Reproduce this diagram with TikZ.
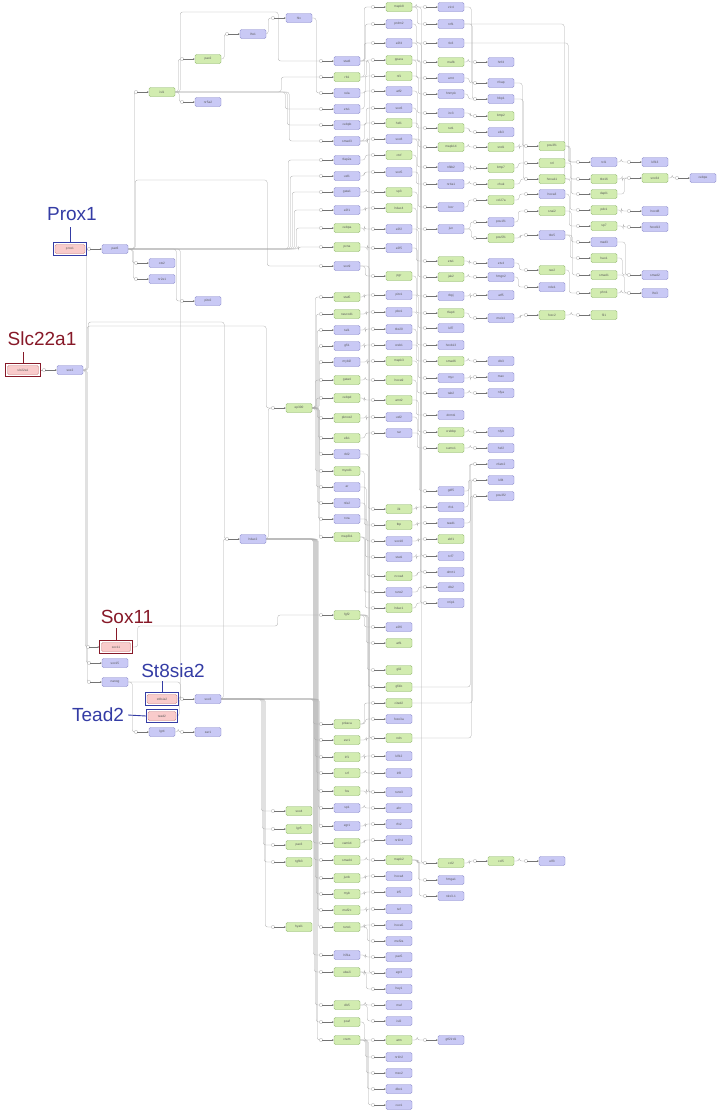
\documentclass[tikz,border=0pt]{standalone}
\usepackage{fontspec}
\setmainfont{Liberation Sans}
\usetikzlibrary{arrows.meta,backgrounds,fit}
\definecolor{nfb}{RGB}{201,201,245}
\definecolor{ndb}{RGB}{132,132,200}
\definecolor{nfg}{RGB}{210,236,176}
\definecolor{ndg}{RGB}{136,178,100}
\definecolor{nfp}{RGB}{249,203,203}
\definecolor{ndp}{RGB}{196,118,118}
\definecolor{hlblue}{RGB}{52,60,165}
\definecolor{hlred}{RGB}{135,25,40}
\definecolor{wiregray}{RGB}{172,172,172}

\newcommand\genecol[2]{%
  \foreach \ya/\gn/\gc in {#2} {
    \node[gene=\gc] (\gn) at (#1,\ya) {\gn};
    \node[mk] (m-\gn) at (#1-26,\ya) {};
    \draw[tip] (m-\gn) -- (\gn);
  }}

\begin{document}
\begin{tikzpicture}[x=1pt,y=-1pt,
    gene/.style={rectangle, rounded corners=1.4pt, draw=nd#1, fill=nf#1, line width=0.4pt, minimum width=26pt, minimum height=9pt, inner sep=0.6pt, font=\fontsize{3.2}{3.6}\selectfont, text=black!65},
    mk/.style={rectangle, draw=black!45, fill=white, line width=0.3pt, minimum size=2.6pt, inner sep=0pt, rounded corners=0.5pt},
    tip/.style={draw=black!55, line width=0.35pt, -{Stealth[length=1.8pt,width=1.6pt]}},
    wire/.style={draw=wiregray, line width=0.3pt, rounded corners=2.5pt},
    hotbox/.style={draw=#1, line width=1.1pt, inner sep=1.4pt},
    callout/.style={font=\fontsize{19}{21}\selectfont, text=#1, inner sep=0pt}
  ]
  \useasboundingbox (0,0) rectangle (724,1114);

  \node[gene=p, minimum width=30pt] (prox1) at (70,249) {prox1};
  \node[gene=p, minimum width=31pt] (slc22a1) at (23,370) {slc22a1};
  \node[gene=p, minimum width=29pt] (sox11) at (116,647) {sox11};
  \node[gene=p, minimum width=30pt] (st8sia2) at (162,699) {st8sia2};
  \node[gene=p, minimum width=28pt] (tead2) at (162,716) {tead2};
  \node[hotbox=hlblue, fit=(prox1)] (prox1box) {};
  \node[hotbox=hlred, fit=(slc22a1)] (slcbox) {};
  \node[hotbox=hlred, fit=(sox11)] (sox11box) {};
  \node[hotbox=hlblue, fit=(st8sia2)] (st8box) {};
  \node[hotbox=hlblue, fit=(tead2)] (teadbox) {};
  \node[mk] (m-sox11) at (88,647) {};
  \draw[tip] (m-sox11) -- (sox11box);

  \node[callout=hlblue] (lprox1) at (72,214) {Prox1};
  \node[callout=hlred] (lslc) at (42,339) {Slc22a1};
  \node[callout=hlred] (lsox11) at (127,617) {Sox11};
  \node[callout=hlblue] (lst8) at (173,671) {St8sia2};
  \node[callout=hlblue] (ltead) at (98,715) {Tead2};
  \draw[hlblue, line width=0.9pt] (prox1box.north) -- ++(0,-15);
  \draw[hlred, line width=0.9pt] (slcbox.north) -- ++(0,-11);
  \draw[hlred, line width=0.9pt] (sox11box.north) -- ++(0,-12);
  \draw[hlblue, line width=0.9pt] (st8box.north) -- ++(0,-11);
  \draw[hlblue, line width=0.9pt] (teadbox.west) -- ([xshift=4pt]ltead.east);

  \genecol{70}{370/sox2/b}
  \genecol{115}{249/pax6/b, 663/sox15/b, 682/nanog/b}
  \genecol{162}{92/isl1/g, 263/otx2/b, 279/nr2e1/b, 732/lgr4/b}
  \genecol{208}{59/pax2/g, 102/nr5a2/b, 301/pitx2/b, 699/sox3/b, 732/zar1/b}
  \genecol{253}{34/lhx1/b, 539/hdac2/b}
  \genecol{299}{18/hlx/b, 408/ep300/g, 811/sox4/g, 829/lgr5/g, 845/pax3/g, 862/tgfb3/g, 927/hyal1/g}

  \genecol{347}{61/stat3/b, 77/rb1/g, 93/rela/b, 109/etv1/b, 125/cebpb/b, 141/smad3/b, 160/tfap2a/b, 176/usf1/b, 192/gata1/b, 210/e2f1/b, 228/cebpa/g, 247/pcna/g, 266/sox9/b, 297/stat5/g, 314/neurod1/g, 330/tal1/b, 346/gfi1/b, 362/mybl2/b, 380/gata4/g, 398/cebpd/g, 418/pknox2/g, 438/elk1/g, 454/rbl2/b, 471/myod1/g, 487/ar/b, 503/nfe2/b, 519/rxra/b, 537/map3k1/g, 615/fgf2/g, 724/prkaca/g, 740/esr1/g, 757/irf1/g, 773/srf/g, 791/fos/g, 808/sp1/b, 826/egr1/b, 843/camk4/g, 860/smad4/g, 878/junb/g, 894/myb/g, 910/mef2c/g, 927/runx1/g, 955/hif1a/b, 972/ube2i/g, 1005/dlx5/g, 1022/pcaf/g, 1040/crem/g}

  \genecol{399}{7/mapk8/g, 24/prdm2/b, 43/e2f4/b, 60/ppara/g, 76/nf1/g, 91/atf2/b, 108/sox6/b, 123/hsf1/g, 139/sox8/b, 155/ctcf/g, 172/sox5/b, 192/sp3/g, 208/hdac4/g, 229/e2f2/b, 248/e2f5/b, 276/pgr/g, 295/pitx1/b, 312/pbx1/b, 329/tbx20/b, 345/creb1/b, 361/mapk3/g, 380/hoxa9/g, 400/arnt2/g, 417/usf2/b, 433/rar/b, 509/ilk/g, 525/tbp/g, 541/sox10/b, 557/stat1/b, 576/ncoa4/g, 592/runx2/b, 608/hdac1/g, 627/e2f6/b, 643/atf1/g, 670/gli2/g, 687/gfi1b/g, 703/cited2/g, 719/foxo3a/b, 738/ndn/g, 756/klf12/b, 773/irf8/b, 792/runx3/b, 808/ahr/b, 824/rfx2/b, 840/nr1h4/b, 860/mapk2/g, 876/hoxa4/b, 892/irf5/b, 909/tef/b, 925/hoxa5/b, 941/mef2a/b, 957/pax5/b, 973/egr3/b, 989/hey1/b, 1005/maf/b, 1021/isl2/b, 1040/atm/g, 1057/nr1h2/b, 1073/msx2/b, 1089/dbx1/b, 1105/cux1/b}

  \genecol{451}{7/zic4/b, 24/nrf1/b, 43/tlx3/b, 62/mafb/g, 78/arnt/b, 94/hnrnpk/b, 113/irx3/b, 128/ret1/g, 147/mapk14/g, 167/nfkb2/b, 184/nr4a1/b, 207/lcor/b, 229/jun/b, 261/ets1/g, 277/jak2/g, 296/rbpj/b, 313/tfap4/g, 328/klf7/b, 345/hoxb13/b, 361/smad6/g, 378/myc/b, 393/tab2/b, 415/dnmt1/b, 432/crebbp/g, 448/sumo1/g, 491/gdf5/b, 507/rfx1/b, 523/tead1/b, 539/ebf1/g, 556/tcf7/b, 572/dmrt1/b, 587/dlx2/b, 603/nrip1/b, 863/ccl2/g, 880/hmga1/b, 896/nkx3-1/b, 1040/gtf2ird1/b}

  \genecol{501}{62/hnf4/b, 83/rfxap/b, 99/hbp1/b, 116/bmp2/g, 132/elk3/b, 147/snd1/g, 168/bmp7/g, 184/chuk/g, 200/ccl27a/g, 222/pou1f1/b, 238/pou5f1/g, 263/etv4/b, 277/hmgn2/b, 295/atf5/b, 318/meis1/b, 361/dlx3/b, 377/max/b, 393/nfya/b, 432/nfyb/b, 448/hsf2/b, 464/nfatc2/b, 480/klf4/b, 496/pou3f2/b, 861/ccl5/g}

  \genecol{552}{146/pou3f1/g, 163/nrl/g, 179/hoxa11/g, 194/hoxa3/b, 211/snai2/g, 235/tbx5/b, 270/rax2/g, 287/nde1/b, 315/foxc2/g, 861/elf3/b}

  \genecol{604}{162/tcl1/b, 179/tbx16/g, 194/dapl1/g, 210/pdc1/g, 226/sp7/g, 242/mad3/b, 258/hao1/g, 275/smad1/g, 293/phn1/g, 315/fli1/g}

  \genecol{655}{162/klf13/b, 178/snx34/g, 211/hoxd8/b, 227/hoxd13/b, 275/smad2/b, 293/lhx3/b}
  \genecol{703}{178/cebpe/b}

  \begin{pgfonlayer}{background}
    \fill[white] (0,0) rectangle (724,1114);
    \draw[wire] (slcbox.east) -- (m-sox2);
    \draw[wire] (prox1box.east) -- (m-pax6);
    \draw[wire] (sox2.east) -- ++(4,0) -- ++(0,-44) -- ++(179,0) |- (m-ep300);
    \draw[wire] (sox2.east) -- ++(5,0) -- ++(0,-48) -- ++(136,0) |- (m-hdac2);
    \draw[wire] (isl1.east) -- ++(5,0) -- ++(0,-80) -- ++(98,0) |- (m-stat3);
    \draw[wire] (pax6.east) -- ++(7,0) -- ++(0,-69) -- ++(132,0) |- (m-sox9);
    \draw[wire] (sox11box.east) -- ++(5,0) -- ++(0,-21) -- ++(140,0) |- (m-fgf2);
    \foreach \sa/\ta/\da in {sox2/pax6/3, sox2/sox11/2, sox2/sox15/3, sox2/nanog/4,
        pax6/otx2/4, pax6/nr2e1/5, pax6/isl1/6, pax6/pitx2/48, pax6/sox3/52, isl1/pax2/3, isl1/nr5a2/4,
        pax2/lhx1/3, lhx1/hlx/2, nanog/sox3/52, tead2/sox3/3, st8sia2/sox3/3, nanog/lgr4/4,
        lgr4/zar1/3, sox3/hdac2/2, hdac2/ep300/2, sox3/sox4/40, sox3/lgr5/41, sox3/pax3/42,
        sox3/tgfb3/43, sox3/hyal1/44, hlx/rela/4,
        isl1/rb1/106, isl1/etv1/110, isl1/cebpb/112, isl1/smad3/114,
        pax6/tfap2a/160, pax6/usf1/162, pax6/gata1/164, pax6/e2f1/166, pax6/cebpa/168, pax6/pcna/170,
        ep300/stat5/3, ep300/neurod1/4, ep300/tal1/5, ep300/gfi1/6, ep300/mybl2/7, ep300/gata4/3,
        ep300/cebpd/4, ep300/pknox2/5, ep300/elk1/6, ep300/rbl2/7, ep300/myod1/3, ep300/ar/4,
        ep300/nfe2/5, ep300/rxra/6, ep300/map3k1/7,
        sox3/prkaca/92, sox3/esr1/93, sox3/irf1/94, sox3/srf/95, sox3/fos/96, sox3/sp1/97, sox3/egr1/98,
        hdac2/camk4/47, hdac2/smad4/48, hdac2/junb/49, hdac2/myb/50, hdac2/mef2c/51, hdac2/runx1/52,
        hdac2/hif1a/47, hdac2/ube2i/48, hdac2/dlx5/49, hdac2/pcaf/50, hdac2/crem/51}
      {\draw[wire] (\sa.east) -- ++(\da,0) |- (m-\ta);}
    \foreach \sa/\ta/\da in {stat3/mapk8/4, stat3/prdm2/5, rb1/e2f4/4, rb1/ppara/6, rela/nf1/5,
        etv1/atf2/4, cebpb/sox6/6, smad3/hsf1/4, smad3/sox8/7, tfap2a/ctcf/5, usf1/sox5/4,
        gata1/sp3/6, e2f1/hdac4/5, cebpa/e2f2/4, pcna/e2f5/7, sox9/pgr/5, stat5/pitx1/4,
        neurod1/pbx1/6, tal1/tbx20/5, gfi1/creb1/4, mybl2/mapk3/7, gata4/hoxa9/5, cebpd/arnt2/4,
        pknox2/usf2/6, elk1/rar/5, rbl2/ilk/8, myod1/tbp/4, ar/sox10/6, nfe2/stat1/5, rxra/ncoa4/7,
        map3k1/runx2/4, map3k1/hdac1/5, fgf2/e2f6/4, fgf2/atf1/6, fgf2/gli2/7, fgf2/gfi1b/8,
        prkaca/cited2/4, prkaca/foxo3a/5, esr1/ndn/6, irf1/klf12/4, srf/irf8/5, fos/runx3/6,
        sp1/ahr/4, egr1/rfx2/5, camk4/nr1h4/4, smad4/mapk2/6, junb/hoxa4/5, myb/irf5/4,
        mef2c/tef/6, runx1/hoxa5/4, runx1/mef2a/7, hif1a/pax5/5, ube2i/egr3/4, ube2i/hey1/6,
        dlx5/maf/5, dlx5/isl2/7, pcaf/atm/4, crem/nr1h2/5, crem/msx2/6, crem/dbx1/7, crem/cux1/8,
        stat3/ndn/9, smad3/runx3/8, sox9/egr3/9,
        mapk8/zic4/4, mapk8/nrf1/5, prdm2/tlx3/4, e2f4/mafb/5, ppara/arnt/4, nf1/hnrnpk/6,
        atf2/irx3/5, sox6/ret1/4, hsf1/mapk14/6, sox8/nfkb2/5, ctcf/nr4a1/4, sox5/lcor/6,
        sp3/jun/5, hdac4/ets1/4, e2f2/jak2/6, e2f5/rbpj/5, pgr/tfap4/4, pitx1/klf7/6,
        pbx1/hoxb13/5, tbx20/smad6/4, creb1/myc/6, mapk3/tab2/5, hoxa9/dnmt1/4, arnt2/crebbp/6,
        usf2/sumo1/5, rar/gdf5/7, ilk/rfx1/4, tbp/tead1/5, sox10/ebf1/6, stat1/tcf7/4,
        ncoa4/dmrt1/5, runx2/dlx2/6, hdac1/nrip1/4, mapk2/ccl2/5, mapk2/hmga1/6, mapk2/nkx3-1/7,
        atm/gtf2ird1/5, ppara/dmrt1/8, e2f4/tcf7/9, sox8/nrip1/8, mapk8/ccl2/9,
        gfi1b/nfatc2/58, ndn/klf4/59, cited2/pou3f2/60,
        mafb/hnf4/4, arnt/rfxap/5, hnrnpk/hbp1/4, irx3/bmp2/6, ret1/elk3/5, mapk14/snd1/4,
        nfkb2/bmp7/6, nr4a1/chuk/5, lcor/ccl27a/4, jun/pou1f1/6, jun/pou5f1/7, ets1/etv4/5,
        jak2/hmgn2/4, rbpj/atf5/6, tfap4/meis1/5, smad6/dlx3/4, myc/max/6, tab2/nfya/5,
        crebbp/nfyb/4, sumo1/hsf2/6, gdf5/nfatc2/5, rfx1/klf4/4, tead1/pou3f2/6, ccl2/ccl5/5,
        zic4/rfxap/7, nrf1/hbp1/8, tlx3/tcl1/104, nrf1/tbx16/100,
        snd1/pou3f1/5, bmp7/nrl/4, chuk/hoxa11/6, ccl27a/hoxa3/5, pou1f1/snai2/4, pou5f1/tbx5/6,
        etv4/rax2/5, hmgn2/nde1/4, meis1/foxc2/6, ccl5/elf3/5, rfxap/pou3f1/8, hbp1/hoxa11/9,
        pou3f1/tcl1/4, pou3f1/tbx16/5, nrl/dapl1/6, hoxa11/pdc1/5, hoxa3/sp7/4, snai2/mad3/6,
        tbx5/hao1/5, tbx5/smad1/7, rax2/phn1/4, foxc2/fli1/6,
        tcl1/klf13/4, tbx16/snx34/5, pdc1/hoxd8/4, sp7/hoxd13/6, hao1/smad2/5, phn1/lhx3/4,
        dapl1/snx34/7, mad3/smad2/8, smad1/lhx3/7, snx34/cebpe/4}
      {\draw[wire] (\sa.east) -- ++(\da,0) |- (m-\ta);}
  \end{pgfonlayer}
\end{tikzpicture}
\end{document}
